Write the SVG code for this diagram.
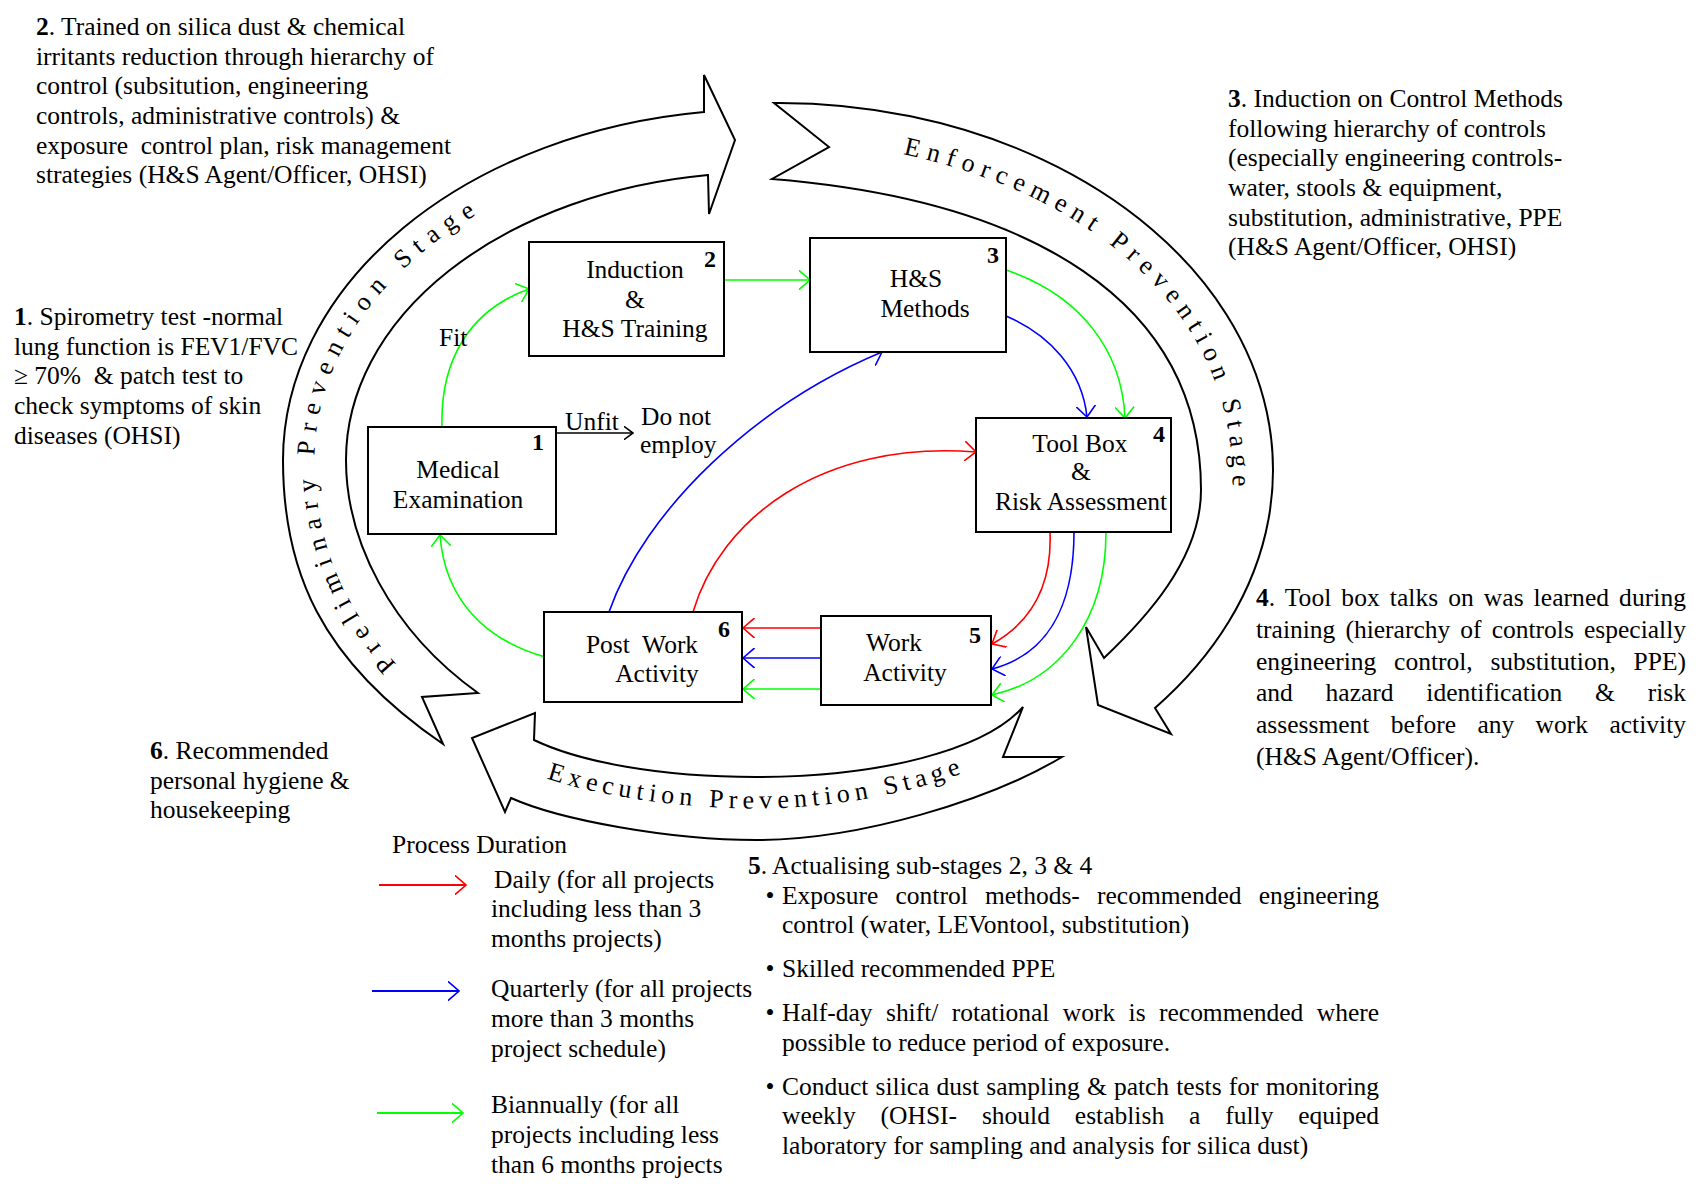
<svg xmlns="http://www.w3.org/2000/svg" width="1708" height="1184" viewBox="0 0 1708 1184">
<defs>
<style>
text { font-family: "Liberation Serif", "Times New Roman", serif; font-size: 25.5px; fill: #000; }
.c { text-anchor: middle; }
.num { font-weight: bold; font-size: 24px; text-anchor: middle; }
.box { fill: #fff; stroke: #000; stroke-width: 2; }
.stage { fill: #fff; stroke: #000; stroke-width: 2; stroke-linejoin: miter; }
.arc { font-size: 26px; }
.con path, .con line { fill: none; stroke-width: 1.6; }
.r { stroke: #ff0000; }
.b { stroke: #0000ff; }
.g { stroke: #00ff00; }
.k { stroke: #000; }
.leg line { stroke-width: 2; }
</style>
<marker id="mr" viewBox="0 0 12 20" refX="11.5" refY="10" markerWidth="12" markerHeight="20" markerUnits="userSpaceOnUse" orient="auto"><path d="M0,0 L11.5,10 L0,20" fill="none" stroke="#ff0000" stroke-width="1.6"/></marker>
<marker id="mb" viewBox="0 0 12 20" refX="11.5" refY="10" markerWidth="12" markerHeight="20" markerUnits="userSpaceOnUse" orient="auto"><path d="M0,0 L11.5,10 L0,20" fill="none" stroke="#0000ff" stroke-width="1.6"/></marker>
<marker id="mg" viewBox="0 0 12 20" refX="11.5" refY="10" markerWidth="12" markerHeight="20" markerUnits="userSpaceOnUse" orient="auto"><path d="M0,0 L11.5,10 L0,20" fill="none" stroke="#00ff00" stroke-width="1.6"/></marker>
<marker id="mk" viewBox="0 0 10 14" refX="9.5" refY="7" markerWidth="10" markerHeight="14" markerUnits="userSpaceOnUse" orient="auto"><path d="M0,0 L9.5,7 L0,14" fill="none" stroke="#000" stroke-width="1.6"/></marker>
<path id="tp-pre" d="M460.5,718.5 C355,645 314.5,555 314.5,460 A448.5,319 0 0 1 763,141"/>
<path id="tp-enf" d="M772,138 C1036,148 1232.5,281 1232.5,480 C1232.5,558 1183.5,630 1126,682"/>
<path id="tp-exe" d="M522.5,769 C570,791 665,808.5 756,808.5 C870,808.5 987.5,775 1042.5,732"/>
</defs>
<rect width="1708" height="1184" fill="#fff"/>

<g id="stage-preliminary">
<path class="stage" d="M704,112 A480,351 0 0 0 283,460 C283,570 320,660 443,744 L422,697 L478,693 C390,630 346,540 346,460 A417,287.5 0 0 1 708,175 L709,214 L735,140 L704,75 Z"/>
<text class="arc" letter-spacing="8.4"><textPath href="#tp-pre" startOffset="84">Preliminary Prevention Stage</textPath></text>
</g>
<g id="stage-enforcement">
<path class="stage" d="M774,103 A494,367 0 0 1 1155,708 L1171,734 L1098,705 L1086,627 L1104,658 C1144,620 1201,560 1201,490 C1201,300 1030,200 772,179 L829,147 Z"/>
<text class="arc" letter-spacing="7.1"><textPath href="#tp-enf" startOffset="132">Enforcement Prevention Stage</textPath></text>
</g>
<g id="stage-execution">
<path class="stage" d="M1023,707 C985,750 880,777 756,777 C660,777 580,762 534,740 L535,713 L472,738 L505,812 L511,798 C560,820 670,840 756,840 C860,840 990,800 1062,757 L1003,757 Z"/>
<text class="arc" letter-spacing="5.3"><textPath href="#tp-exe" startOffset="26">Execution Prevention Stage</textPath></text>
</g>

<g id="connectors" class="con">
<path class="g" d="M442,427 C440,360 470,310 529,289" marker-end="url(#mg)"/>
<line class="g" x1="724" y1="280" x2="810" y2="280" marker-end="url(#mg)"/>
<path class="g" d="M1006,270 C1080,295 1122,350 1125,418" marker-end="url(#mg)"/>
<path class="b" d="M1006,316 C1050,335 1082,370 1087,417" marker-end="url(#mb)"/>
<path class="b" d="M609,612 C645,510 755,405 882,352" marker-end="url(#mb)"/>
<path class="r" d="M693,612 C720,520 820,440 976,452" marker-end="url(#mr)"/>
<path class="r" d="M1050,532 C1052,580 1035,620 992,644" marker-end="url(#mr)"/>
<path class="b" d="M1074,532 C1074,610 1045,655 992,669" marker-end="url(#mb)"/>
<path class="g" d="M1106,532 C1106,620 1060,680 992,695" marker-end="url(#mg)"/>
<line class="r" x1="821" y1="628" x2="743" y2="628" marker-end="url(#mr)"/>
<line class="b" x1="821" y1="658" x2="743" y2="658" marker-end="url(#mb)"/>
<line class="g" x1="821" y1="689" x2="743" y2="689" marker-end="url(#mg)"/>
<path class="g" d="M545,657 C485,640 445,600 440,535" marker-end="url(#mg)"/>
<line class="k" x1="557" y1="433" x2="633" y2="433" marker-end="url(#mk)"/>
<text x="439" y="346">Fit</text>
<text x="565" y="430">Unfit</text>
</g>

<g id="do-not-employ">
<text x="641" y="425">Do not</text>
<text x="640" y="453">employ</text>
</g>

<g id="node-1">
<rect class="box" x="368" y="427" width="188" height="107"/>
<text class="c" x="458" y="478">Medical</text>
<text class="c" x="458" y="508">Examination</text>
<text class="num" x="538" y="450">1</text>
</g>
<g id="node-2">
<rect class="box" x="529" y="242" width="195" height="114"/>
<text class="c" x="635" y="278">Induction</text>
<text class="c" x="635" y="308">&amp;</text>
<text class="c" x="635" y="337">H&amp;S Training</text>
<text class="num" x="710" y="267">2</text>
</g>
<g id="node-3">
<rect class="box" x="810" y="238" width="196" height="114"/>
<text class="c" x="916" y="287">H&amp;S</text>
<text class="c" x="925" y="317">Methods</text>
<text class="num" x="993" y="263">3</text>
</g>
<g id="node-4">
<rect class="box" x="976" y="418" width="195" height="114"/>
<text class="c" x="1080" y="452">Tool Box</text>
<text class="c" x="1081" y="480">&amp;</text>
<text class="c" x="1081" y="510">Risk Assessment</text>
<text class="num" x="1159" y="442">4</text>
</g>
<g id="node-5">
<rect class="box" x="821" y="616" width="170" height="89"/>
<text class="c" x="894" y="651">Work</text>
<text class="c" x="905" y="681">Activity</text>
<text class="num" x="975" y="643">5</text>
</g>
<g id="node-6">
<rect class="box" x="544" y="612" width="198" height="90"/>
<text class="c" x="642" y="653" xml:space="preserve">Post  Work</text>
<text class="c" x="657" y="682">Activity</text>
<text class="num" x="724" y="637">6</text>
</g>

<g id="note-1">
<text x="14" y="325"><tspan font-weight="bold">1</tspan>. Spirometry test -normal</text>
<text x="14" y="354.6">lung function is FEV1/FVC</text>
<text x="14" y="384.3" xml:space="preserve">≥ 70%  &amp; patch test to</text>
<text x="14" y="414">check symptoms of skin</text>
<text x="14" y="443.5">diseases (OHSI)</text>
</g>
<g id="note-2">
<text x="36" y="35"><tspan font-weight="bold">2</tspan>. Trained on silica dust &amp; chemical</text>
<text x="36" y="64.6">irritants reduction through hierarchy of</text>
<text x="36" y="94.3">control (subsitution, engineering</text>
<text x="36" y="124">controls, administrative controls) &amp;</text>
<text x="36" y="153.5" xml:space="preserve">exposure  control plan, risk management</text>
<text x="36" y="183">strategies (H&amp;S Agent/Officer, OHSI)</text>
</g>
<g id="note-3">
<text x="1228" y="107"><tspan font-weight="bold">3</tspan>. Induction on Control Methods</text>
<text x="1228" y="136.6">following hierarchy of controls</text>
<text x="1228" y="166.3">(especially engineering controls-</text>
<text x="1228" y="196">water, stools &amp; equipment,</text>
<text x="1228" y="225.5">substitution, administrative, PPE</text>
<text x="1228" y="255">(H&amp;S Agent/Officer, OHSI)</text>
</g>
<g id="note-4">
<text x="1256" y="606" word-spacing="3.5" textLength="430" lengthAdjust="spacing"><tspan font-weight="bold">4</tspan>. Tool box talks on was learned during</text>
<text x="1256" y="638" word-spacing="3.7" textLength="430" lengthAdjust="spacing">training (hierarchy of controls especially</text>
<text x="1256" y="669.7" word-spacing="11.4" textLength="430" lengthAdjust="spacing">engineering control, substitution, PPE)</text>
<text x="1256" y="701.3" word-spacing="26.4" textLength="430" lengthAdjust="spacing">and hazard identification &amp; risk</text>
<text x="1256" y="733" word-spacing="15" textLength="430" lengthAdjust="spacing">assessment before any work activity</text>
<text x="1256" y="764.5">(H&amp;S Agent/Officer).</text>
</g>
<g id="note-5">
<text x="748" y="874"><tspan font-weight="bold">5</tspan>. Actualising sub-stages 2, 3 &amp; 4</text>
<text class="c" x="770" y="904">•</text>
<text x="782" y="904" word-spacing="10.8" textLength="597" lengthAdjust="spacing">Exposure control methods- recommended engineering</text>
<text x="782" y="933">control (water, LEVontool, substitution)</text>
<text class="c" x="770" y="977">•</text>
<text x="782" y="977">Skilled recommended PPE</text>
<text class="c" x="770" y="1020.5">•</text>
<text x="782" y="1020.5" word-spacing="7.1" textLength="597" lengthAdjust="spacing">Half-day shift/ rotational work is recommended where</text>
<text x="782" y="1051">possible to reduce period of exposure.</text>
<text class="c" x="770" y="1094.5">•</text>
<text x="782" y="1094.5" word-spacing="0.8" textLength="597" lengthAdjust="spacing">Conduct silica dust sampling &amp; patch tests for monitoring</text>
<text x="782" y="1124" word-spacing="18.5" textLength="597" lengthAdjust="spacing">weekly (OHSI- should establish a fully equiped</text>
<text x="782" y="1153.5">laboratory for sampling and analysis for silica dust)</text>
</g>
<g id="note-6">
<text x="150" y="759"><tspan font-weight="bold">6</tspan>. Recommended</text>
<text x="150" y="788.6">personal hygiene &amp;</text>
<text x="150" y="818.3">housekeeping</text>
</g>

<g id="legend" class="con leg">
<text x="392" y="853">Process Duration</text>
<line class="r" x1="379" y1="885" x2="466" y2="885" marker-end="url(#mr)"/>
<text x="494" y="888">Daily (for all projects</text>
<text x="491" y="917">including less than 3</text>
<text x="491" y="947">months projects)</text>
<line class="b" x1="372" y1="991" x2="459" y2="991" marker-end="url(#mb)"/>
<text x="491" y="997">Quarterly (for all projects</text>
<text x="491" y="1027">more than 3 months</text>
<text x="491" y="1057">project schedule)</text>
<line class="g" x1="377" y1="1113" x2="463" y2="1113" marker-end="url(#mg)"/>
<text x="491" y="1113">Biannually (for all</text>
<text x="491" y="1143">projects including less</text>
<text x="491" y="1173">than 6 months projects</text>
</g>
</svg>
